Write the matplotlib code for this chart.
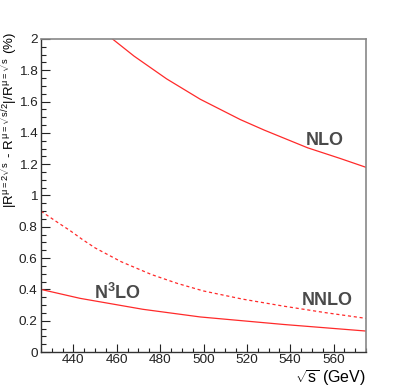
#Scale variation of R vs sqrt(s)
import numpy as np
import matplotlib
matplotlib.use('Agg')
import matplotlib.pyplot as plt
from matplotlib.ticker import MultipleLocator

plt.rcParams['font.family'] = ['Liberation Sans', 'DejaVu Sans']
plt.rcParams['mathtext.fontset'] = 'custom'
plt.rcParams['mathtext.rm'] = 'Liberation Sans'
plt.rcParams['mathtext.it'] = 'Liberation Sans'
plt.rcParams['mathtext.bf'] = 'Liberation Sans:bold'

#Data
nlo_x = [458, 468, 483, 498.5, 517, 528, 548, 563, 575]
nlo_y = [2.00, 1.89, 1.745, 1.615, 1.485, 1.418, 1.305, 1.237, 1.18]

nnlo_x = [425, 433, 438.5, 444, 450, 462, 476, 488, 500, 518, 537, 556, 575]
nnlo_y = [0.90, 0.825, 0.775, 0.72, 0.665, 0.577, 0.495, 0.438, 0.39, 0.338, 0.293, 0.252, 0.215]

n3lo_x = [425, 443, 472, 498.5, 537, 575]
n3lo_y = [0.40, 0.343, 0.273, 0.224, 0.176, 0.134]

#Figure
fig = plt.figure(figsize=(4.07, 3.91), dpi=100)
ax = fig.add_axes([0.1007, 0.0997, 0.7986, 0.8006])

red = '#ff2a2a'
ax.plot(nlo_x, nlo_y, color=red, lw=0.9)
ax.plot(nnlo_x, nnlo_y, color=red, lw=0.9, ls=(0, (2.5, 2.2)))
ax.plot(n3lo_x, n3lo_y, color=red, lw=0.9)

ax.set_xlim(425, 575)
ax.set_ylim(0, 2)

ax.xaxis.set_major_locator(MultipleLocator(20))
ax.xaxis.set_minor_locator(MultipleLocator(5))
ax.yaxis.set_major_locator(MultipleLocator(0.2))
ax.yaxis.set_minor_locator(MultipleLocator(0.05))
ax.yaxis.set_major_formatter(plt.FuncFormatter(lambda v, p: '%g' % round(v, 2)))

ax.tick_params(which='both', direction='in', top=False, right=False,
               labelsize=9.7, colors='#222222', width=0.8)
ax.tick_params(axis='y', which='major', length=6.5, pad=2.5)
ax.tick_params(axis='y', which='minor', length=3.3)
ax.tick_params(axis='x', which='major', length=6, pad=1.5)
ax.tick_params(axis='x', which='minor', length=3)

for s in ['top', 'right']:
    ax.spines[s].set_color('#888888')
    ax.spines[s].set_linewidth(1.2)
for s in ['left', 'bottom']:
    ax.spines[s].set_color('#333333')
    ax.spines[s].set_linewidth(1.0)

#Labels
fig.text(0.899, 0.033, r'$\sqrt{s}$ (GeV)', ha='right', va='center',
         fontsize=11.5)
fig.text(0.022, 0.918, r'$|R^{\mu=2\sqrt{s}}$ - $R^{\mu=\sqrt{s}/2}|/R^{\mu=\sqrt{s}}$ (%)',
         ha='center', va='top', rotation=90, fontsize=9.5)

lab = dict(fontsize=13, fontweight='bold', color='#4a4a4a', ha='center', va='center')
ax.text(556, 1.353, 'NLO', **lab)
ax.text(557, 0.332, 'NNLO', **lab)
ax.text(460.5, 0.377, r'N$^{\mathbf{3}}$LO', **lab)

plt.savefig('out.png', dpi=100)
